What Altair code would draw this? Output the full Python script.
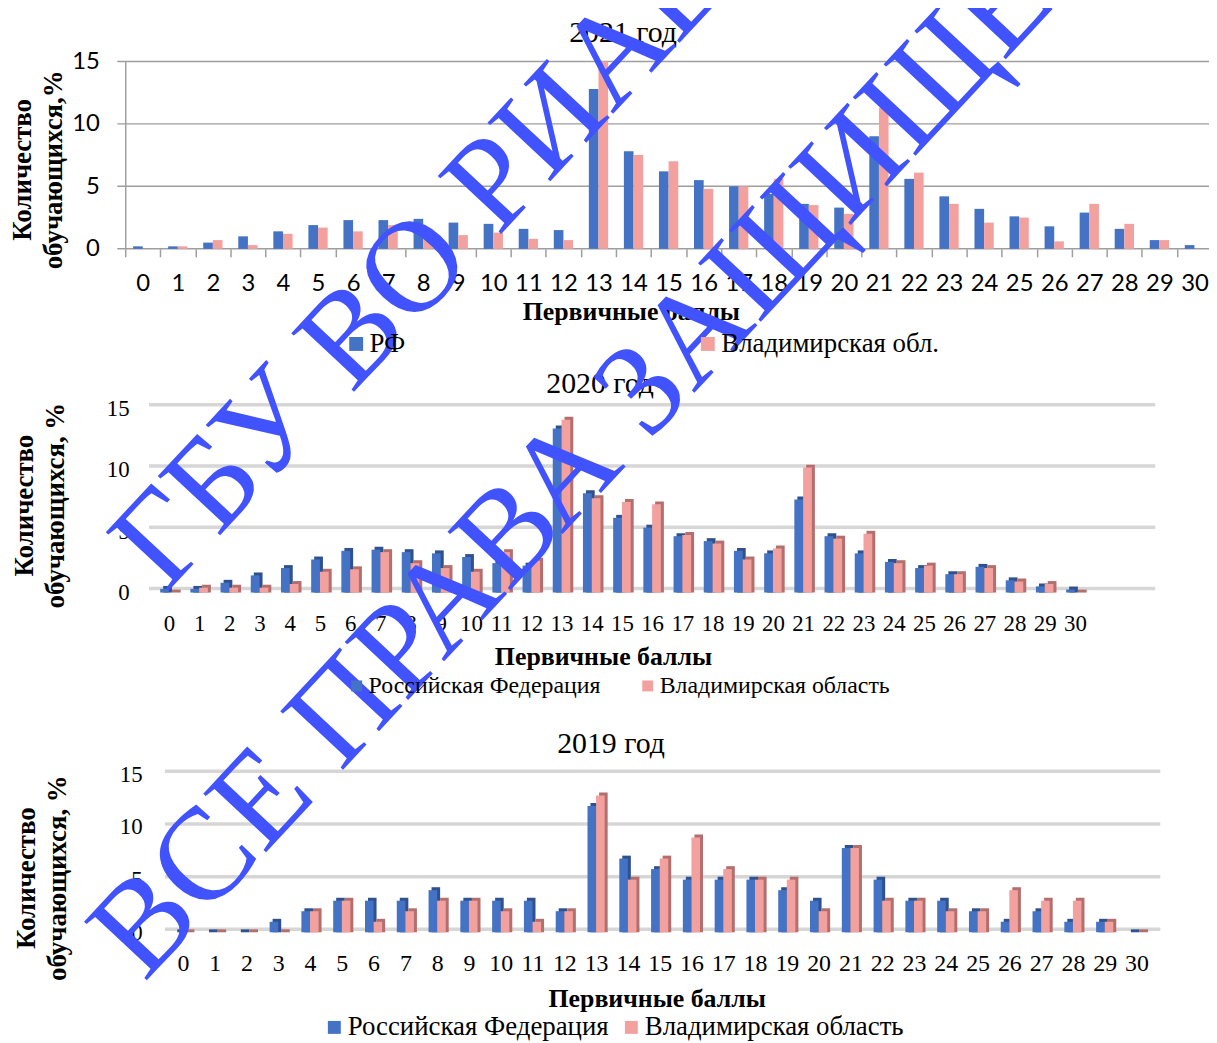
import altair as alt
import pandas as pd

# ---------------- data ----------------
scores = list(range(31))

rf_2021 = [0.2, 0.2, 0.5, 1.0, 1.4, 1.9, 2.3, 2.3, 2.4, 2.1, 2.0, 1.6, 1.5, 12.8, 7.8, 6.2,
           5.5, 5.0, 4.4, 3.6, 3.3, 9.0, 5.6, 4.2, 3.2, 2.6, 1.8, 2.9, 1.6, 0.7, 0.3]
vlad_2021 = [0.0, 0.2, 0.7, 0.3, 1.2, 1.7, 1.4, 1.9, 1.5, 1.1, 1.3, 0.8, 0.7, 15.0, 7.5, 7.0,
             4.8, 5.0, 5.6, 3.5, 2.8, 11.3, 6.1, 3.6, 2.1, 2.5, 0.6, 3.6, 2.0, 0.7, 0.0]
rf_2020 = [0.3, 0.3, 0.8, 1.4, 2.0, 2.7, 3.4, 3.5, 3.3, 3.2, 2.9, 2.4, 2.2, 13.4, 8.1, 6.1,
           5.3, 4.6, 4.2, 3.4, 3.2, 7.6, 4.6, 3.2, 2.5, 2.0, 1.5, 2.1, 1.0, 0.5, 0.25]
vlad_2020 = [0.0, 0.4, 0.4, 0.4, 0.7, 1.7, 1.9, 3.3, 2.4, 2.0, 1.7, 3.3, 2.6, 14.1, 7.7, 7.4,
             7.2, 4.7, 4.0, 2.7, 3.6, 10.2, 4.4, 4.8, 2.4, 2.2, 1.5, 2.0, 0.9, 0.7, 0.0]
rf_2019 = [0, 0, 0, 1, 2, 3, 3, 3, 4, 3, 3, 3, 2, 12, 7, 6, 5, 5, 5, 4, 3, 8, 5, 3, 3, 2, 1, 2, 1, 1, 0]
vlad_2019 = [0, 0, 0, 0, 2, 3, 1, 2, 3, 3, 2, 1, 2, 13, 5, 7, 9, 6, 5, 5, 2, 8, 3, 3, 2, 2, 4, 3, 3, 1, 0]

series_short = ["РФ", "Владимирская обл."]
series_full = ["Российская Федерация", "Владимирская область"]
titles = ["2021 год", "2020 год", "2019 год"]
y_title_1 = ["Количество", "обучающихся,%"]
y_title_2 = ["Количество", "обучающихся, %"]
x_title = "Первичные баллы"
grid_values = [0, 5, 10, 15]
half_ticks = [k - 0.5 for k in range(32)]
watermark = ["ГБУ ВО РИАЦОКО", "ВСЕ ПРАВА ЗАЩИЩЕНЫ"]

# ---------------- styles ----------------
BLUE, PINK = "#4472C4", "#F2A19F"
BLUE_D, PINK_D = "#2F528F", "#B36F6D"
GRAY = "#9E9E9E"
GRID3D = "#D6D6D6"
WM = "#4152FF"
SERIF, SANS = "Liberation Serif", "Lato"
W, H = 1209, 1035


def long_df(rf, vl, names):
    rows = []
    for i, s in enumerate(scores):
        rows.append({"score": s, "series": names[0], "side": 0, "value": rf[i]})
        rows.append({"score": s, "series": names[1], "side": 1, "value": vl[i]})
    return pd.DataFrame(rows)


def scales(p):
    xs = alt.Scale(domain=[-0.5, 30.5], range=p["xr"], nice=False, zero=False)
    ys = alt.Scale(domain=[0, 15], range=p["yr"], nice=False, zero=False)
    return xs, ys


panels = [
    dict(df=long_df(rf_2021, vlad_2021, series_short), names=series_short, title=titles[0],
         xr=[118, 1212], yr=[239, 50.3], flat=True, w=0.275,
         gx=(-0.727, 30.5), grid_off=0,
         yax=dict(offset=-118, pad=26, font=SANS, size=24, title=y_title_1, tx=-103.5, ty=159),
         xax=dict(pad=35, font=SANS, size=24, tx=627, ty=63),
         leg=dict(x=337, y=321, sym=196, size=27, off=0, colpad=291),
         tpos=(13.70, 17.25)),
    dict(df=long_df(rf_2020, vlad_2020, series_full), names=series_full, title=titles[1],
         xr=[146.8, 1089.2], yr=[585, 400], flat=False, w=0.29, dx=0.10, dy=0.24,
         gx=(-0.658, 32.66), grid_off=-4,
         yax=dict(offset=-122, pad=0, font=SERIF, size=23, title=y_title_2, tx=-105.5, ty=497),
         xax=dict(pad=31, font=SERIF, size=23, tx=599, ty=64),
         leg=dict(x=339, y=667, sym=121, size=24, off=0, colpad=35),
         tpos=(14.28, 17.03)),
    dict(df=long_df(rf_2019, vlad_2019, series_full), names=series_full, title=titles[2],
         xr=[160, 1152], yr=[927, 768], flat=False, w=0.27, dx=0.094, dy=0.28,
         gx=(-0.5625, 30.75), grid_off=-3,
         yax=dict(offset=-135, pad=0, font=SERIF, size=23, title=y_title_2, tx=-116, ty=872),
         xax=dict(pad=31, font=SERIF, size=24, tx=653, ty=67),
         leg=dict(x=315, y=1009, sym=169, size=27, off=0, colpad=9),
         tpos=(13.47, 17.92)),
]

layers = []
for i, p in enumerate(panels):
    xs, ys = scales(p)
    base_y = p["yr"][0]
    ya = p["yax"]
    y_axis = alt.Axis(
        orient="left", offset=ya["offset"], values=grid_values, grid=False,
        domain=p["flat"], domainColor=GRAY, domainWidth=1.5,
        ticks=False, tickSize=0, labelPadding=ya["pad"],
        labelFont=ya["font"], labelFontSize=ya["size"], labelColor="black",
        title=ya["title"], titleFont=SERIF, titleFontSize=27, titleFontWeight="bold",
        titleColor="black", titleAngle=270, titleAlign="center", titleBaseline="middle",
        titleX=ya["tx"], titleY=ya["ty"], titleLineHeight=31, zindex=0,
    )
    if p["flat"]:
        tick_axis = alt.Axis(
            orient="bottom", offset=-(H - base_y), values=half_ticks, labels=False,
            ticks=True, tickSize=8, tickColor=GRAY, tickWidth=1.5, domain=False,
            grid=False, title=None, zindex=0,
        )
        grid = alt.Chart(pd.DataFrame({"g": grid_values})).mark_rule(
            color=GRAY, strokeWidth=1.5
        )
    else:
        tick_axis = None
        grid = alt.Chart(pd.DataFrame({"g": grid_values})).mark_rule(
            color=GRID3D, strokeWidth=3.5, yOffset=p["grid_off"]
        )
    layers.append(grid.encode(
        y=alt.Y("g:Q", scale=ys, axis=y_axis),
        x=alt.X(datum=p["gx"][0], scale=xs, axis=tick_axis),
        x2=alt.X2(datum=p["gx"][1]),
    ))

    w = p["w"]
    calc = dict(
        x1=f"datum.score + (datum.side - 1) * {w}",
        x2=f"datum.score + datum.side * {w}",
    )
    if not p["flat"]:
        shadow = alt.Chart(p["df"]).transform_calculate(
            sx1=f"datum.score + (datum.side - 1) * {w} + {p['dx']}",
            sx2=f"datum.score + datum.side * {w} + {p['dx']}",
            sy=f"datum.value + {p['dy']}",
        ).mark_bar().encode(
            x=alt.X("sx1:Q", scale=xs, axis=None),
            x2="sx2:Q",
            y=alt.Y("sy:Q", scale=ys, axis=None),
            y2=alt.Y2(datum=0),
            color=alt.Color("series:N", scale=alt.Scale(domain=p["names"], range=[BLUE_D, PINK_D]),
                            legend=None),
        )
        layers.append(shadow)

    xa = p["xax"]
    x_axis = alt.Axis(
        orient="bottom", offset=-(H - base_y), values=scores, format="d",
        ticks=False, tickSize=0, domain=False, grid=False,
        labelFont=xa["font"], labelFontSize=xa["size"], labelColor="black",
        labelBaseline="middle", labelPadding=xa["pad"], labelFlush=False,
        labelOverlap=False, labelBound=False,
        title=x_title, titleFont=SERIF, titleFontSize=26, titleFontWeight="bold",
        titleColor="black", titleX=xa["tx"], titleY=xa["ty"], titleBaseline="middle",
        titleAlign="center", zindex=0,
    )
    lg = p["leg"]
    legend = alt.Legend(
        orient="none", legendX=lg["x"], legendY=lg["y"], direction="horizontal",
        title=None, symbolType="square", symbolSize=lg["sym"], symbolStrokeWidth=0,
        labelFont=SERIF, labelFontSize=lg["size"], labelColor="black", labelLimit=600,
        labelOffset=lg["off"], columnPadding=lg["colpad"], padding=0,
    )
    front = alt.Chart(p["df"]).transform_calculate(**calc).mark_bar().encode(
        x=alt.X("x1:Q", scale=xs, axis=x_axis),
        x2="x2:Q",
        y=alt.Y("value:Q", scale=ys, axis=None),
        y2=alt.Y2(datum=0),
        color=alt.Color("series:N", scale=alt.Scale(domain=p["names"], range=[BLUE, PINK]),
                        legend=legend),
    )
    layers.append(front)

    ttl = alt.Chart(pd.DataFrame({"t": [p["title"]]})).mark_text(
        font=SERIF, fontSize=30, color="black", align="center", baseline="middle"
    ).encode(
        x=alt.X(datum=p["tpos"][0], scale=xs, axis=None),
        y=alt.Y(datum=p["tpos"][1], scale=ys, axis=None),
        text="t:N",
    )
    layers.append(ttl)

# watermark, placed in the 2020 panel's scales
xs2, ys2 = scales(panels[1])
wm_pos = [(-0.10, -0.08), (-0.82, -31.87)]
for text, (wx, wy) in zip(watermark, wm_pos):
    layers.append(
        alt.Chart(pd.DataFrame({"t": [text]})).mark_text(
            font=SERIF, fontSize=132, color=WM, align="left", baseline="alphabetic",
            angle=313,
        ).encode(
            x=alt.X(datum=wx, scale=xs2, axis=None),
            y=alt.Y(datum=wy, scale=ys2, axis=None),
            text="t:N",
        )
    )

chart = alt.layer(*layers).resolve_scale(
    x="independent", y="independent", color="independent"
).resolve_axis(
    x="independent", y="independent"
).resolve_legend(
    color="independent"
).properties(
    width=W, height=H, autosize=alt.AutoSizeParams(type="none"), padding=0,
    background="white",
).configure_view(stroke=None)

chart.save("out.html", embed_options={"renderer": "svg", "actions": False})
